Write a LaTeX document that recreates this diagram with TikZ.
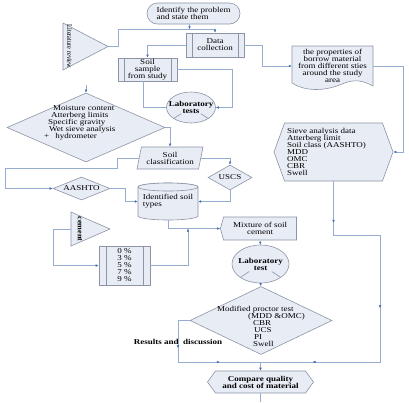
\documentclass[tikz,border=0pt]{standalone}
\usepackage{graphicx}
\usepackage{fontspec}
\setmainfont{Liberation Serif}[FakeStretch=1.2]
\usetikzlibrary{calc,arrows.meta,shapes.geometric,shapes.misc,shapes.symbols,decorations.markings}
\definecolor{boxfill}{RGB}{232,236,245}
\definecolor{boxline}{RGB}{140,148,166}
\definecolor{connline}{RGB}{150,172,208}
\definecolor{tipblue}{RGB}{70,110,180}

\begin{document}
\begin{tikzpicture}[x=1pt,y=-1pt,>={Latex[length=3pt,width=2.6pt,color=tipblue]},
  every node/.style={font=\fontsize{7.5}{7}\selectfont,inner sep=1pt},
  bold/.style={font=\fontsize{7.5}{7}\selectfont\bfseries},
  shp/.style={draw=boxline,fill=boxfill,line width=0.6pt},
  conn/.style={draw=connline,line width=0.5pt},
  tipat/.style={postaction={decorate,decoration={markings,mark=at position #1 with {\arrow{>}}}}},
  procbox/.style={shp,path picture={
    \draw[boxline,line width=0.6pt] ([xshift=#1]path picture bounding box.north west) -- ([xshift=#1]path picture bounding box.south west)
      ([xshift=-#1]path picture bounding box.north east) -- ([xshift=-#1]path picture bounding box.south east);}},
  procbox/.default=6pt,
  junction/.style={shp,ellipse,path picture={
    \draw[boxline,line width=0.6pt] ($(path picture bounding box.center)!0.4!(path picture bounding box.south west)$) -- (path picture bounding box.south west)
      ($(path picture bounding box.center)!0.4!(path picture bounding box.south east)$) -- (path picture bounding box.south east);}},
  dia/.style={shp,diamond,inner sep=0pt},
  hexa/.style={shp,signal,signal to=west and east,signal pointer angle=#1}]
  \useasboundingbox (0,0) rectangle (409,402);
  % problem and literature
  \node[shp,rounded rectangle,inner xsep=0pt,minimum width=93,minimum height=21,align=left] (ident) at (193.5,13.5) {Identify the problem\\and state them};
  \draw[shp] (63,23) -- (108,46.5) -- (63,70) -- cycle;
  \coordinate (litapex) at (108,46.5);
  \node[rotate=-90] (littxt) at (69.5,46.5) {\scalebox{0.7}[1]{Literature review}};
  \node[procbox,minimum width=58,minimum height=24,align=center] (data) at (215,45) {Data\\collection};
  \node[procbox,minimum width=59,minimum height=23,align=center] (soil) at (147.5,69.5) {Soil\\sample\\from study};
  % borrow material sheet
  \draw[shp] (292,46) -- (373,46) -- (373,86) .. controls (362,80) and (354,79) .. (342,84) .. controls (326,91) and (306,92) .. (292,83) -- cycle;
  \node[align=center,minimum width=81,minimum height=40] (prop) at (332.5,66) {the properties of\\borrow material\\from different sties\\around the study\\area};
  \node[junction,minimum width=49,minimum height=31,label={[bold,align=center]center:Laboratory\\tests}] (labA) at (191,107.5) {};
  \node[hexa=140,minimum width=119,minimum height=58,label={[align=left,xshift=-7pt]center:Sieve analysis data\\Atterberg limit\\Soil class (AASHTO)\\MDD\\OMC\\CBR\\Swell}] (sieve) at (333.5,152) {};
  % classification
  \coordinate (moistin) at (86,85);
  \node[dia,minimum width=158,minimum height=69] (moist) at (86,127.5) {};
  \node[anchor=west,align=left] (moisttxt) at (43,122.5) {\hspace*{9pt}Moisture content\\\hspace*{7pt}Atterberg limits\\\hspace*{4pt}Specific gravity\\\hspace*{5pt}Wet sieve analysis\\+\hspace*{6pt}hydrometer};
  \node[shp,trapezium,trapezium left angle=75,trapezium right angle=105,trapezium stretches=true,minimum width=66,minimum height=22,align=center] (sclass) at (170,158) {Soil\\classification};
  \node[dia,minimum width=57,minimum height=23,label=center:AASHTO] (aashto) at (81.5,188.5) {};
  \node[dia,minimum width=44,minimum height=25,label=center:USCS] (uscs) at (230,177.5) {};
  % soil types drum
  \draw[shp] (138,187) -- (138,216) arc[start angle=180,end angle=360,x radius=30pt,y radius=4pt] -- (198,187) arc[start angle=0,end angle=180,x radius=30pt,y radius=4pt] -- cycle;
  \draw[shp] (168,187) ellipse[x radius=30pt,y radius=4pt];
  \node[align=left,minimum width=60,minimum height=37] (cyl) at (168,201.5) {Identified soil\\types};
  % cement and mixing
  \draw[shp] (71,212) -- (110,229) -- (71,246) -- cycle;
  \coordinate (cemL) at (71,229);
  \node[rotate=-90,bold] (cemtxt) at (80,229) {\scalebox{0.9}[1]{cement}};
  \node[procbox=7pt,minimum width=51,minimum height=39,align=center] (pct) at (124.5,265.5) {0 \%\\3 \%\\5 \%\\7 \%\\9 \%};
  \node[hexa=150,signal to=west,minimum width=76,minimum height=23,align=center] (mix) at (260,228.5) {Mixture of soil\\cement};
  \coordinate (jmix) at (188,228.5);
  \node[junction,minimum width=57,minimum height=38,label={[bold,align=center]center:Laboratory\\test}] (labB) at (260.5,264) {};
  \node[dia,minimum width=142,minimum height=68] (proc) at (261,320.5) {};
  \node[anchor=west,align=left] (proctxt) at (216,326.5) {Modified proctor test\\\hspace*{31pt}(MDD \&OMC)\\\hspace*{36pt}CBR\\\hspace*{37pt}UCS\\\hspace*{37pt}PI\\\hspace*{36pt}Swell};
  \node[bold] (results) at (178,341.5) {Results and\ \ discussion};
  \coordinate (jcmp) at (260.5,362);
  \node[hexa=108,minimum width=106,minimum height=22,align=center,bold] (cmp) at (260.5,382) {Compare quality\\and cost of material};
  \coordinate (cmpend) at (260.5,402);
  % connectors
  \draw[conn,->] ([xshift=-4pt]ident.south) -- ++(0,5) coordinate (jtop);
  \draw[conn,->] (jtop) -| (data.north);
  \draw[conn] (litapex) -- (118,46.5) |- (jtop);
  \draw[conn,->] (data.west) -| (soil.north);
  \draw[conn,->] (data.east) -- ++(18,0) |- (prop.west);
  \draw[conn,->] (prop.east) -- ++(30,0) |- (sieve.east);
  \draw[conn,->] (soil.east) -- ++(55,0) |- (labA.east);
  \draw[conn] ([xshift=-4pt]soil.south) |- (labA.west);
  \draw[conn,->] (moistin) -- (moist.north);
  \draw[conn,->] (moist.east) -| (sclass.north);
  \draw[conn,->] (sclass.west) -| (117,168) -- (5,168) |- (aashto.west);
  \draw[conn,->] (sclass.east) -| (uscs.north);
  \draw[conn,->] (aashto.east) -- ++(15,0) |- (cyl.west);
  \draw[conn,->] (uscs.south) |- (cyl.east);
  \draw[conn,->] (cyl.south) |- (mix.west);
  \draw[conn,->] (pct.east) -| (jmix);
  \draw[conn,->] (cemL) -- ++(-18,0) |- (pct.west);
  \draw[conn,->] (mix.south) -- (labB.north);
  \draw[conn,->] (labB.south) -- (proc.north);
  \draw[conn,tipat=0.29,tipat=0.7] (proc.west) -| (178,362) -- (jcmp);
  \draw[conn,tipat=0.12,tipat=0.5,tipat=0.85] (sieve.south) -- ++(0,54) -| (380,362) -- (jcmp);
  \draw[conn,->] (jcmp) -- (cmp.north);
  \draw[conn] (cmp.south) -- (cmpend);
\end{tikzpicture}
\end{document}
